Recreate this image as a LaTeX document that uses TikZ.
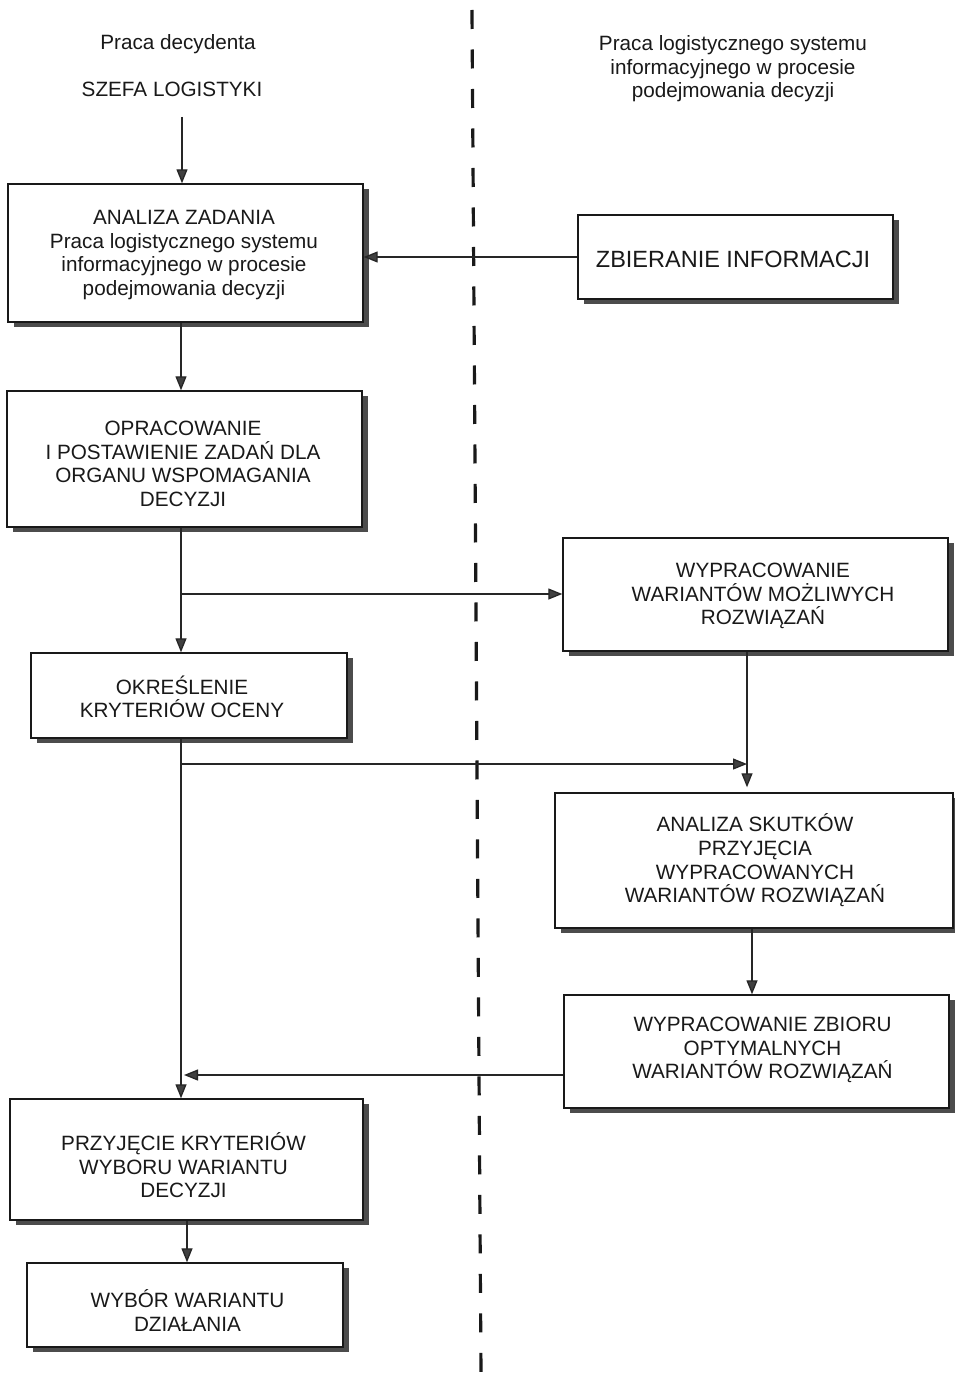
\documentclass[tikz,border=0pt]{standalone}
\usepackage{fontspec}
\setmainfont{Liberation Sans}
\usetikzlibrary{arrows.meta,shadows}
\tikzset{
  box/.style={draw=black!90, line width=1.4pt, fill=white, rectangle, inner sep=0pt,
    drop shadow={shadow xshift=6pt, shadow yshift=-5pt, fill=black!70, opacity=1}},
  txt/.style={align=center, inner sep=0pt, text=black!90, font=\fontsize{20.7}{23.6}\selectfont},
  bigtxt/.style={txt, font=\fontsize{23.5}{27}\selectfont},
  arr/.style={draw=black!85, line width=1.3pt, -{Triangle[length=14pt,width=11pt,fill=black!75]}},
  divider/.style={draw=black!90, line width=3.2pt, dash pattern=on 19pt off 20.5pt}
}
\begin{document}
\begin{tikzpicture}[x=1pt,y=-1pt]
\useasboundingbox[fill=white] (0,0) rectangle (955,1375);

% divider
\coordinate (d0) at (472,10);
\coordinate (d1) at (481,1375);
\draw[divider] (d0) -- (d1);

% headings
\node[txt] (h1) at (178,44) {Praca decydenta};
\node[txt] (h2) at (172,89) {SZEFA LOGISTYKI};
\node[txt] (h3) at (733,69) {Praca logistycznego systemu\\informacyjnego w procesie\\podejmowania decyzji};

% boxes
\node[box, minimum width=355pt, minimum height=138pt] (b1) at (185.5,253) {};
\node[box, minimum width=315pt, minimum height=84pt] (b2) at (735.5,257) {};
\node[box, minimum width=355pt, minimum height=136pt] (b3) at (184.5,459) {};
\node[box, minimum width=385pt, minimum height=113pt] (b4) at (755.5,594.5) {};
\node[box, minimum width=316pt, minimum height=85pt] (b5) at (189,695.5) {};
\node[box, minimum width=398pt, minimum height=135pt] (b6) at (754,860.5) {};
\node[box, minimum width=385pt, minimum height=113pt] (b7) at (756.5,1051.5) {};
\node[box, minimum width=353pt, minimum height=121pt] (b8) at (186.5,1159.5) {};
\node[box, minimum width=316pt, minimum height=84pt] (b9) at (185,1305) {};

% box texts
\node[txt] (t1) at (184,255) {ANALIZA ZADANIA\\Praca logistycznego systemu\\informacyjnego w procesie\\podejmowania decyzji};
\node[bigtxt] (t2) at (733,259) {ZBIERANIE INFORMACJI};
\node[txt] (t3) at (183,464) {OPRACOWANIE\\I POSTAWIENIE ZADAŃ DLA\\ORGANU WSPOMAGANIA\\DECYZJI};
\node[txt] (t4) at (763,596) {WYPRACOWANIE\\WARIANTÓW MOŻLIWYCH\\ROZWIĄZAŃ};
\node[txt] (t5) at (182,697) {OKREŚLENIE\\KRYTERIÓW OCENY};
\node[txt] (t6) at (755,860.5) {ANALIZA SKUTKÓW\\PRZYJĘCIA\\WYPRACOWANYCH\\WARIANTÓW ROZWIĄZAŃ};
\node[txt] (t7) at (762.5,1050) {WYPRACOWANIE ZBIORU\\OPTYMALNYCH\\WARIANTÓW ROZWIĄZAŃ};
\node[txt] (t8) at (183.5,1165.5) {PRZYJĘCIE KRYTERIÓW\\WYBORU WARIANTU\\DECYZJI};
\node[txt] (t9) at (187.5,1310.5) {WYBÓR WARIANTU\\DZIAŁANIA};

% helper coordinates
\coordinate (s0) at (182,117);
\coordinate (c1) at (181,0);
\coordinate (c2) at (747,0);
\coordinate (c3) at (752,0);
\coordinate (c4) at (187,0);
\coordinate (j1) at (181,594);
\coordinate (j2) at (181,764);
\coordinate (j3) at (184,1075);

% connectors
\draw[arr] (s0) -- (s0 |- b1.north);
\draw[arr] (b2.west) -- (b2.west -| b1.east);
\draw[arr] (b1.south -| c1) -- (b3.north -| c1);
\draw[arr] (b3.south -| c1) -- (b5.north -| c1);
\draw[arr] (j1) -- (j1 -| b4.west);
\draw[arr, shorten >=5pt] (b4.south -| c2) -- (b6.north -| c2);
\draw[arr] (j2) -- (j2 -| c2);
\draw[arr] (b5.south -| c1) -- (b8.north -| c1);
\draw[arr] (b6.south -| c3) -- (b7.north -| c3);
\draw[arr] (j3 -| b7.west) -- (j3);
\draw[arr] (b8.south -| c4) -- (b9.north -| c4);
\end{tikzpicture}
\end{document}
